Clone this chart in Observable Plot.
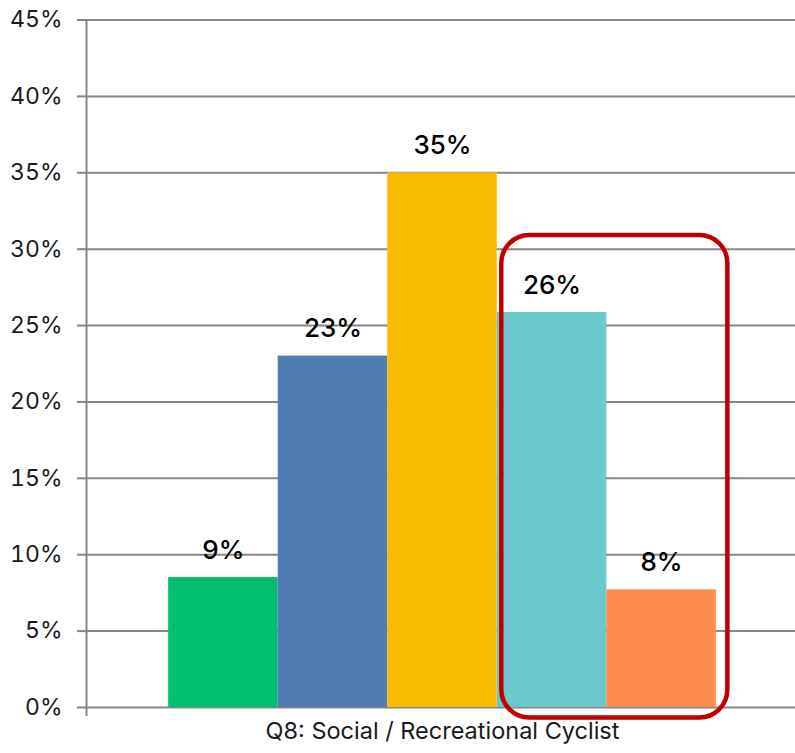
<!DOCTYPE html>
<html>
<head>
<meta charset="utf-8">
<script src="https://cdn.jsdelivr.net/npm/d3@7"></script>
<script src="https://cdn.jsdelivr.net/npm/@observablehq/plot@0.6"></script>
<style>
  html, body { margin: 0; padding: 0; background: #fff; }
  #chart svg { display: block; }
</style>
</head>
<body>
<div id="chart"></div>
<script>
// ---- data ----
const categories = ["Response 1", "Response 2", "Response 3", "Response 4", "Response 5"];
const values = [8.5, 23.0, 35.0, 25.85, 7.7];
const valueLabels = ["9%", "23%", "35%", "26%", "8%"];
const barColors = ["#00BF6F", "#4E7CB3", "#F8BD00", "#6BC8CC", "#FF8B51"];
const yTicks = [0, 5, 10, 15, 20, 25, 30, 35, 40, 45];
const yTickLabels = ["0%", "5%", "10%", "15%", "20%", "25%", "30%", "35%", "40%", "45%"];
const xTitle = "Q8: Social / Recreational Cyclist";
const highlighted = ["Response 4", "Response 5"];

// ---- build table ----
const rows = categories.map((c, i) => ({
  category: c, index: i, value: values[i], label: valueLabels[i], color: barColors[i]
}));
const hiRows = rows.filter(r => highlighted.includes(r.category));
const highlight = [{
  x1: d3.min(hiRows, r => r.index),
  x2: d3.max(hiRows, r => r.index) + 1,
  y1: 0,
  y2: d3.max(hiRows, r => r.value)
}];

const xDomain = [-0.75, categories.length + 0.75];
const gridColor = "#878787";
const font = "Inter, 'Liberation Sans', Arial, sans-serif";

const chart = Plot.plot({
  width: 795,
  height: 753,
  marginLeft: 86,
  marginRight: 0,
  marginTop: 19.5,
  marginBottom: 46,
  style: { fontFamily: font, background: "#fff" },
  x: { type: "linear", domain: xDomain, range: [86, 798] },
  y: { domain: [yTicks[0], yTicks[yTicks.length - 1]] },
  marks: [
    Plot.ruleY(yTicks, { x1: xDomain[0], x2: xDomain[1], stroke: gridColor, strokeWidth: 2 }),
    Plot.axisY({
      ticks: yTicks,
      tickFormat: d => yTickLabels[yTicks.indexOf(d)],
      tickSize: 9,
      tickPadding: 15,
      stroke: gridColor,
      strokeWidth: 2,
      strokeOpacity: 1,
      fontSize: 23,
      fill: "#1a1a1a",
      label: null
    }),
    Plot.axisX({
      ticks: [xDomain[0]],
      tickSize: 9,
      tickFormat: () => "",
      stroke: gridColor,
      strokeWidth: 2,
      strokeOpacity: 1,
      label: null
    }),
    Plot.ruleX([xDomain[0]], { y1: yTicks[0], y2: yTicks[yTicks.length - 1], stroke: gridColor, strokeWidth: 2 }),
    Plot.rectY(rows, { x1: "index", x2: d => d.index + 1, y: "value", fill: "color" }),
    Plot.text(rows, {
      x: d => d.index + 0.5,
      y: "value",
      text: "label",
      dy: -27,
      fontSize: 26,
      fontWeight: 500,
      fill: "#000",
      textAnchor: "middle"
    }),
    Plot.rect(highlight, {
      x1: "x1", x2: "x2", y1: "y1", y2: "y2",
      fill: "none",
      stroke: "#C00000",
      strokeWidth: 4.5,
      rx: 28,
      insetLeft: 4.5,
      insetRight: -11.5,
      insetTop: -77,
      insetBottom: -10.5
    }),
    Plot.text([xTitle], {
      x: categories.length / 2,
      frameAnchor: "bottom",
      text: d => d,
      dy: 31,
      fontSize: 23.5,
      fill: "#1a1a1a",
      textAnchor: "middle"
    })
  ]
});

document.getElementById("chart").appendChild(chart);
</script>
</body>
</html>
